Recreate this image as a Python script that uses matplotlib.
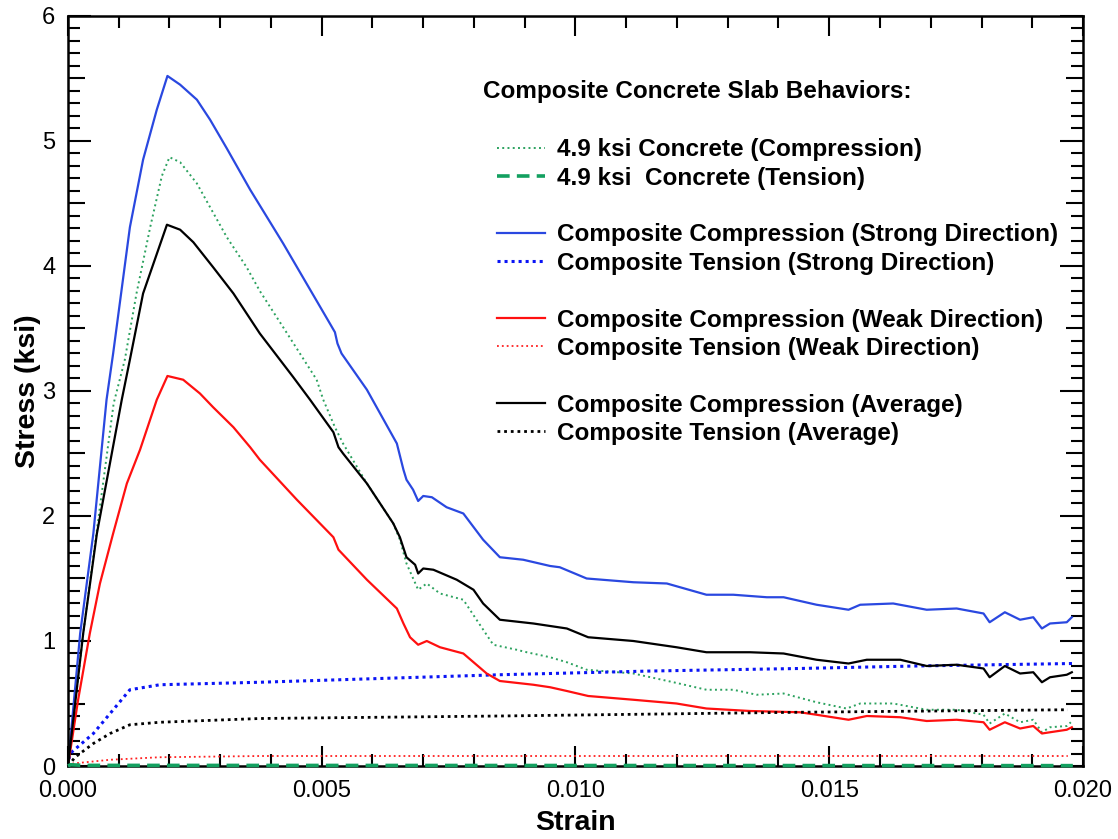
import matplotlib
matplotlib.use("Agg")
import matplotlib.pyplot as plt
from matplotlib.ticker import MultipleLocator, FuncFormatter
from matplotlib.lines import Line2D

plt.rcParams['font.family'] = ['Liberation Sans', 'DejaVu Sans']

# 4.9 ksi concrete, compression
conc_c_strain = [0, 0.0003, 0.0009, 0.00112, 0.00135, 0.00162, 0.00185, 0.002, 0.00221, 0.00254,
                 0.0028, 0.00313, 0.00352, 0.00378, 0.00424, 0.0049, 0.00503, 0.00526, 0.00542,
                 0.00589, 0.00641, 0.00654, 0.00667, 0.0069, 0.00707, 0.00733, 0.00779, 0.00805,
                 0.00838, 0.00884, 0.00904, 0.0095, 0.00983, 0.01022, 0.01114, 0.01193, 0.01258,
                 0.01311, 0.01357, 0.0141, 0.01475, 0.01534, 0.01561, 0.01626, 0.01692, 0.01751,
                 0.01804, 0.01816, 0.01846, 0.01876, 0.01902, 0.01919, 0.01935, 0.01968, 0.01976]
conc_c_stress = [0, 1.06, 2.9, 3.25, 3.78, 4.31, 4.72, 4.87, 4.83, 4.66,
                 4.47, 4.23, 3.99, 3.8, 3.51, 3.09, 2.93, 2.71, 2.58,
                 2.26, 1.94, 1.81, 1.62, 1.41, 1.46, 1.38, 1.33, 1.17,
                 0.97, 0.93, 0.91, 0.87, 0.83, 0.77, 0.74, 0.67, 0.61,
                 0.61, 0.57, 0.58, 0.51, 0.46, 0.50, 0.50, 0.45, 0.45,
                 0.41, 0.34, 0.42, 0.35, 0.37, 0.27, 0.31, 0.32, 0.35]

# 4.9 ksi concrete, tension
conc_t_strain = [0, 0.00005, 0.0003, 0.0198]
conc_t_stress = [0, 0.01, 0.005, 0.003]

# strong direction
strong_c_strain = [0, 0.00024, 0.0005, 0.00076, 0.00089, 0.00122, 0.00148, 0.00175, 0.00196, 0.00221,
                   0.00254, 0.0028, 0.00313, 0.00359, 0.00424, 0.00516, 0.00526, 0.00531, 0.00539,
                   0.00589, 0.00648, 0.00661, 0.00667, 0.0068, 0.0069, 0.007, 0.00717, 0.00746,
                   0.00779, 0.00818, 0.00851, 0.00897, 0.0095, 0.00969, 0.01022, 0.01114, 0.0118,
                   0.01258, 0.01311, 0.01377, 0.0141, 0.01475, 0.01538, 0.01561, 0.01626, 0.01692,
                   0.01751, 0.01804, 0.01816, 0.01846, 0.01876, 0.01902, 0.01919, 0.01935, 0.01968,
                   0.01978]
strong_c_stress = [0, 1.06, 1.86, 2.93, 3.3, 4.31, 4.85, 5.25, 5.52, 5.45,
                   5.33, 5.17, 4.94, 4.61, 4.18, 3.54, 3.47, 3.38, 3.30,
                   3.01, 2.58, 2.37, 2.29, 2.21, 2.12, 2.16, 2.15, 2.07,
                   2.02, 1.81, 1.67, 1.65, 1.60, 1.59, 1.50, 1.47, 1.46,
                   1.37, 1.37, 1.35, 1.35, 1.29, 1.25, 1.29, 1.30, 1.25,
                   1.26, 1.22, 1.15, 1.23, 1.17, 1.19, 1.10, 1.14, 1.15,
                   1.19]
strong_t_strain = [0, 0.00004, 0.0005, 0.00083, 0.00122, 0.00181, 0.00378, 0.0085, 0.0115, 0.0144, 0.0167, 0.0198]
strong_t_stress = [0, 0.10, 0.26, 0.42, 0.61, 0.65, 0.67, 0.73, 0.76, 0.78, 0.80, 0.82]

# weak direction
weak_c_strain = [0, 0.0002, 0.00043, 0.00063, 0.00089, 0.00116, 0.00142, 0.00175, 0.00196, 0.00227,
                 0.0026, 0.00286, 0.00326, 0.00359, 0.00378, 0.00451, 0.00523, 0.00533, 0.00589,
                 0.00648, 0.00661, 0.00674, 0.0069, 0.00707, 0.00733, 0.00779, 0.00825, 0.00851,
                 0.00917, 0.0095, 0.00983, 0.01025, 0.01114, 0.01199, 0.01258, 0.01344, 0.01442,
                 0.01475, 0.01538, 0.01574, 0.0164, 0.01692, 0.01751, 0.01804, 0.01816, 0.01846,
                 0.01876, 0.01902, 0.01919, 0.01935, 0.01968, 0.01978]
weak_c_stress = [0, 0.53, 1.06, 1.46, 1.86, 2.26, 2.53, 2.93, 3.12, 3.09,
                 2.98, 2.87, 2.71, 2.55, 2.45, 2.13, 1.83, 1.73, 1.49,
                 1.26, 1.14, 1.03, 0.97, 1.00, 0.95, 0.90, 0.74, 0.68,
                 0.65, 0.63, 0.60, 0.56, 0.53, 0.50, 0.46, 0.44, 0.43,
                 0.41, 0.37, 0.40, 0.39, 0.36, 0.37, 0.35, 0.29, 0.35,
                 0.30, 0.32, 0.26, 0.27, 0.29, 0.31]
weak_t_strain = [0, 0.0001, 0.00083, 0.0018, 0.00378, 0.0197]
weak_t_stress = [0, 0.02, 0.05, 0.07, 0.08, 0.08]

# average
avg_c_strain = [0, 0.0003, 0.00057, 0.00106, 0.00122, 0.00148, 0.00195, 0.00221, 0.00247, 0.00286,
                0.00326, 0.00378, 0.00444, 0.00477, 0.00523, 0.00533, 0.00542, 0.00589, 0.00641,
                0.00654, 0.00667, 0.00684, 0.0069, 0.007, 0.0072, 0.00766, 0.00799, 0.00818,
                0.00851, 0.00917, 0.00983, 0.01025, 0.01114, 0.01199, 0.01258, 0.01344, 0.0141,
                0.01475, 0.01538, 0.01574, 0.0164, 0.01692, 0.01751, 0.01804, 0.01816, 0.01846,
                0.01876, 0.01902, 0.01919, 0.01935, 0.01968, 0.01978]
avg_c_stress = [0, 1.06, 1.86, 2.93, 3.25, 3.78, 4.33, 4.29, 4.19, 3.99,
                3.78, 3.46, 3.11, 2.93, 2.67, 2.55, 2.50, 2.26, 1.94,
                1.83, 1.67, 1.61, 1.54, 1.58, 1.57, 1.49, 1.41, 1.30,
                1.17, 1.14, 1.10, 1.03, 1.00, 0.95, 0.91, 0.91, 0.90,
                0.85, 0.82, 0.85, 0.85, 0.80, 0.81, 0.78, 0.71, 0.80,
                0.74, 0.75, 0.67, 0.71, 0.73, 0.75]
avg_t_strain = [0, 0.00014, 0.0005, 0.00083, 0.00122, 0.00181, 0.00378, 0.0085, 0.0144, 0.0197]
avg_t_stress = [0, 0.07, 0.18, 0.26, 0.33, 0.35, 0.38, 0.40, 0.43, 0.45]

fig = plt.figure(figsize=(11.18, 8.39), dpi=100)
ax = fig.add_axes([0.0608, 0.087, 0.9079, 0.894])

l_cc, = ax.plot(conc_c_strain, conc_c_stress, color='#2ca25f', lw=1.4, ls=(0, (1, 1.7)),
                label='4.9 ksi Concrete (Compression)')
l_ct, = ax.plot(conc_t_strain, conc_t_stress, color='#13a060', lw=2.6, ls=(0, (3.5, 2)),
                label='4.9 ksi  Concrete (Tension)', clip_on=False, zorder=3)
l_sc, = ax.plot(strong_c_strain, strong_c_stress, color='#2a48e0', lw=1.6,
                label='Composite Compression (Strong Direction)')
l_st, = ax.plot(strong_t_strain, strong_t_stress, color='#0a14f5', lw=2.2, ls=(0, (1, 1.3)),
                label='Composite Tension (Strong Direction)')
l_wc, = ax.plot(weak_c_strain, weak_c_stress, color='#ff1010', lw=1.6,
                label='Composite Compression (Weak Direction)')
l_wt, = ax.plot(weak_t_strain, weak_t_stress, color='#ff2020', lw=1.3, ls=(0, (1, 1.7)),
                label='Composite Tension (Weak Direction)')
l_ac, = ax.plot(avg_c_strain, avg_c_stress, color='black', lw=1.6,
                label='Composite Compression (Average)')
l_at, = ax.plot(avg_t_strain, avg_t_stress, color='black', lw=2.0, ls=(0, (1, 1.4)),
                label='Composite Tension (Average)')

ax.set_xlim(0, 0.02)
ax.set_ylim(0, 6)
ax.xaxis.set_major_locator(MultipleLocator(0.005))
ax.xaxis.set_minor_locator(MultipleLocator(0.001))
ax.xaxis.set_major_formatter(FuncFormatter(lambda v, p: '%.3f' % v))
ax.yaxis.set_major_locator(MultipleLocator(0.5))
ax.yaxis.set_minor_locator(MultipleLocator(0.1))
ax.yaxis.set_major_formatter(FuncFormatter(lambda v, p: '%d' % round(v) if abs(v - round(v)) < 1e-6 else ''))

for s in ax.spines.values():
    s.set_linewidth(1.8)
ax.tick_params(which='both', direction='in', top=True, right=True, width=1.5, labelsize=17)
ax.tick_params(axis='x', which='major', length=14.5, pad=10)
ax.tick_params(axis='y', which='major', length=12, pad=9)
ax.tick_params(which='minor', length=8.5)

# integer stress ticks drawn longer than the half-unit ones
for t, v in zip(ax.yaxis.get_major_ticks(), ax.yaxis.get_majorticklocs()):
    if abs(v - round(v)) < 1e-6:
        t.tick1line.set_markersize(16.5)
        t.tick2line.set_markersize(16.5)

ax.set_xlabel('Strain', fontsize=20.5, fontweight='bold')
ax.set_ylabel('Stress (ksi)', fontsize=20.5, fontweight='bold')
ax.xaxis.set_label_coords(0.5, -0.0585)
ax.yaxis.set_label_coords(-0.027, 0.5)

blank = Line2D([], [], ls='none')
handles = [l_cc, l_ct, blank, l_sc, l_st, blank, l_wc, l_wt, blank, l_ac, l_at]
labels = [h.get_label() if h is not blank else '' for h in handles]
leg = ax.legend(handles, labels, loc='upper left', bbox_to_anchor=(0.4227, 0.8367),
                frameon=False, borderpad=0, borderaxespad=0, handlelength=1.98,
                handletextpad=0.5, labelspacing=0.22,
                prop={'size': 17.5, 'weight': 'bold'})
ax.text(0.4089, 0.8987, 'Composite Concrete Slab Behaviors:', transform=ax.transAxes,
        fontsize=17.5, fontweight='bold', va='center', ha='left')

fig.savefig('out.png', dpi=100)
